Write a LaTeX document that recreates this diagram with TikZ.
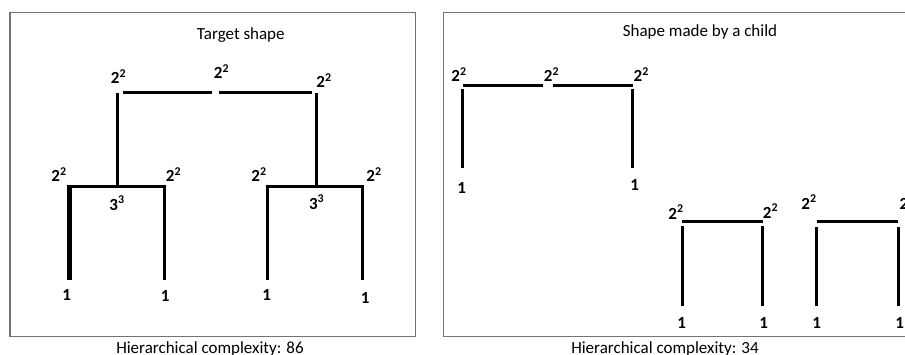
\documentclass[tikz,border=0pt]{standalone}
\usepackage{fontspec}
\setmainfont{Carlito}
\begin{document}
\begin{tikzpicture}[x=1pt,y=-1pt,
  lbl/.style={anchor=base,inner sep=0pt,font=\fontsize{17}{20}\selectfont\bfseries},
  ttl/.style={anchor=base,inner sep=0pt,font=\fontsize{17}{20}\selectfont},
  bar/.style={line width=3pt,line cap=butt},
  panel/.style={draw=black!55,line width=1.1pt}]
\useasboundingbox (0,0) rectangle (905,354);
\clip (0,0) rectangle (905,354);
% panels
\draw[panel] (10,12.7) rectangle (415.7,336.7);
\draw[panel] (443.3,12.7) rectangle (930,336.7);
% titles
\node[ttl] (t1) at (240.8,39.5) {Target shape};
\node[ttl] (t2) at (700,36.5) {Shape made by a child};
\node[ttl] (h1) at (210,353) {Hierarchical complexity: 86};
\node[ttl] (h2) at (665,353.5) {Hierarchical complexity: 34};
% ---------- left: target shape ----------
\coordinate (a1) at (123.3,92.3); \coordinate (a2) at (212.3,92.3);
\coordinate (a3) at (219,92.3);   \coordinate (a4) at (312.3,92.3);
\coordinate (b1) at (117.3,93);   \coordinate (b2) at (117.3,186);
\coordinate (b3) at (316.7,93);   \coordinate (b4) at (316.7,186);
\coordinate (c1) at (66.7,186);   \coordinate (c2) at (166,186);
\coordinate (c3) at (69.3,186);   \coordinate (c4) at (69.3,280);
\coordinate (c5) at (164.7,186);  \coordinate (c6) at (164.7,280);
\coordinate (d1) at (266.3,186);  \coordinate (d2) at (364,186);
\coordinate (d3) at (267.7,186);  \coordinate (d4) at (267.7,280);
\coordinate (d5) at (362.7,186);  \coordinate (d6) at (362.7,280);
\draw[bar] (a1) -- (a2);
\draw[bar] (a3) -- (a4);
\draw[bar] (b1) -- (b2);
\draw[bar] (b3) -- (b4);
\draw[bar] (c1) -- (c2);
\draw[bar,line width=4.8pt] (c3) -- (c4);
\draw[bar] (c5) -- (c6);
\draw[bar] (d1) -- (d2);
\draw[bar,line width=2.6pt] (d3) -- (d4);
\draw[bar] (d5) -- (d6);
\node[lbl] (l1) at (118.5,83.3) {2\textsuperscript{2}};
\node[lbl] (l2) at (221.5,78.3) {2\textsuperscript{2}};
\node[lbl] (l3) at (324,87.3) {2\textsuperscript{2}};
\node[lbl] (l4) at (59,181.7) {2\textsuperscript{2}};
\node[lbl] (l5) at (173.5,181.7) {2\textsuperscript{2}};
\node[lbl] (l6) at (259,181.5) {2\textsuperscript{2}};
\node[lbl] (l7) at (374,181.5) {2\textsuperscript{2}};
\node[lbl] (l8) at (117,210) {3\textsuperscript{3}};
\node[lbl] (l9) at (316.7,209) {3\textsuperscript{3}};
\node[lbl] (l10) at (66.7,300.5) {1};
\node[lbl] (l11) at (165.3,301.5) {1};
\node[lbl] (l12) at (266.7,300) {1};
\node[lbl] (l13) at (365.3,303.3) {1};
% ---------- right: child's shape ----------
\coordinate (e1) at (462.7,85);   \coordinate (e2) at (543.3,85);
\coordinate (e3) at (553.3,85);   \coordinate (e4) at (632.7,85);
\coordinate (f1) at (462.3,89.3); \coordinate (f2) at (462.3,168.3);
\coordinate (f3) at (632.7,89.3); \coordinate (f4) at (632.7,168.3);
\coordinate (g1) at (682.3,221.5); \coordinate (g2) at (763.3,221.5);
\coordinate (g3) at (682.3,226);  \coordinate (g4) at (682.3,306);
\coordinate (g5) at (762.3,226);  \coordinate (g6) at (762.3,306);
\coordinate (k1) at (816.7,221.5); \coordinate (k2) at (897.7,221.5);
\coordinate (k3) at (816,226.7);  \coordinate (k4) at (816,306);
\coordinate (k5) at (898.3,226.7); \coordinate (k6) at (898.3,306);
\draw[bar] (e1) -- (e2);
\draw[bar] (e3) -- (e4);
\draw[bar] (f1) -- (f2);
\draw[bar] (f3) -- (f4);
\draw[bar] (g1) -- (g2);
\draw[bar] (g3) -- (g4);
\draw[bar] (g5) -- (g6);
\draw[bar] (k1) -- (k2);
\draw[bar] (k3) -- (k4);
\draw[bar] (k5) -- (k6);
\node[lbl] (m1) at (459,81.7) {2\textsuperscript{2}};
\node[lbl] (m2) at (551.5,81.7) {2\textsuperscript{2}};
\node[lbl] (m3) at (641.3,81.7) {2\textsuperscript{2}};
\node[lbl] (m4) at (461.7,193.5) {1};
\node[lbl] (m5) at (634.7,190.5) {1};
\node[lbl] (m6) at (676,219) {2\textsuperscript{2}};
\node[lbl] (m7) at (770.5,218) {2\textsuperscript{2}};
\node[lbl] (m8) at (681.7,328.3) {1};
\node[lbl] (m9) at (763.7,328.3) {1};
\node[lbl] (m10) at (809,209) {2\textsuperscript{2}};
\node[lbl] (m11) at (907.3,209) {2\textsuperscript{2}};
\node[lbl] (m12) at (816.7,328.3) {1};
\node[lbl] (m13) at (899.7,328.3) {1};
\end{tikzpicture}
\end{document}
